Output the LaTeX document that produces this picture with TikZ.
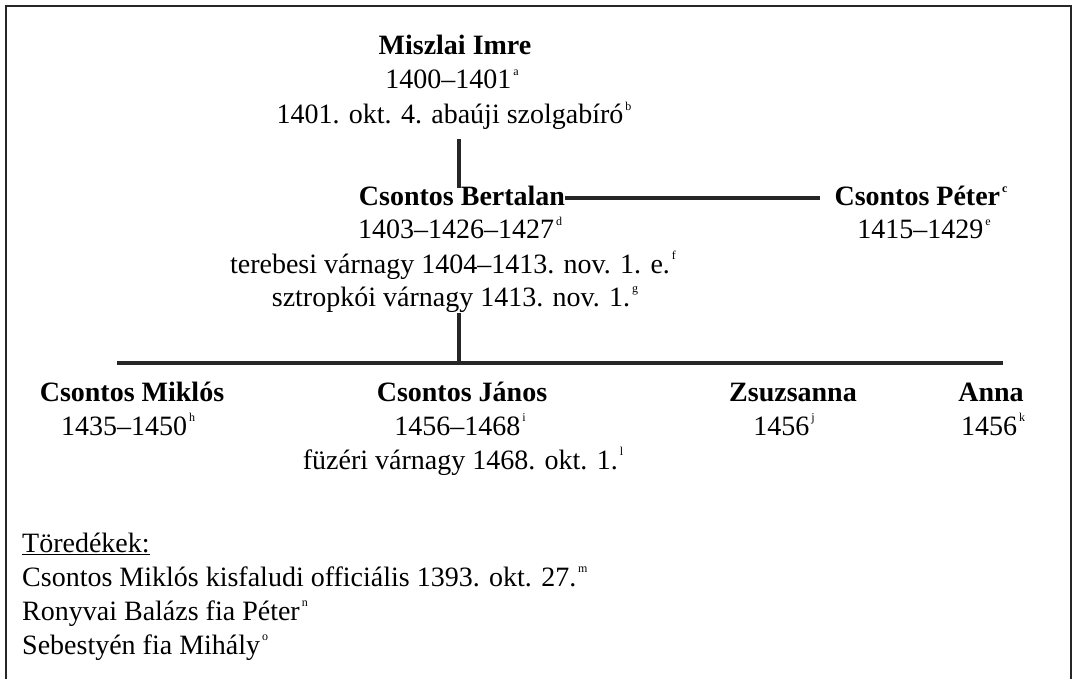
\documentclass[tikz,border=0pt]{standalone}
\usepackage{fontspec}
\setmainfont{Liberation Serif}
\usetikzlibrary{calc}
\newcommand\fnote[1]{\kern2pt\raisebox{13.5pt}{\fontsize{12}{12}\selectfont #1}}
\tikzset{
  txt/.style={font=\fontsize{28}{33}\selectfont, inner sep=0pt, anchor=base},
  nmtxt/.style={txt, font=\fontsize{28}{33}\selectfont\bfseries},
  lefttxt/.style={txt, anchor=base west},
  tree/.style={line width=4pt, draw=black!85},
  frame/.style={line width=2.6pt, draw=black!85},
}
\begin{document}
\begin{tikzpicture}[x=1pt,y=-1pt]
\useasboundingbox (0,0) rectangle (1074,679);
\draw[frame] (6,679) -- (6,6) -- (1071,6) -- (1071,679);

% Miszlai Imre
\node[nmtxt] (m1) at (455,55) {Miszlai Imre};
\node[txt] (m2) at (452,89) {1400–1401\fnote{a}};
\node[txt] (m3) at (454,124) {1401. okt. 4. abaúji szolgabíró\fnote{b}};

% Csontos Bertalan
\node[nmtxt] (b1) at (462,206) {Csontos Bertalan};
\node[txt] (b2) at (460,239) {1403–1426–1427\fnote{d}};
\node[txt] (b3) at (453,273) {terebesi várnagy 1404–1413. nov. 1. e.\fnote{f}};
\node[txt] (b4) at (455,306) {sztropkói várnagy 1413. nov. 1.\fnote{g}};

% Csontos Peter
\node[nmtxt] (p1) at (921,206) {Csontos Péter\fnote{c}};
\node[txt] (p2) at (924,239) {1415–1429\fnote{e}};

% children
\node[nmtxt] (c1) at (132,401) {Csontos Miklós};
\node[txt] (c1a) at (128,435) {1435–1450\fnote{h}};
\node[nmtxt] (c2) at (462,401) {Csontos János};
\node[txt] (c2a) at (460,435) {1456–1468\fnote{i}};
\node[txt] (c2b) at (463,469) {füzéri várnagy 1468. okt. 1.\fnote{l}};
\node[nmtxt] (c3) at (793,401) {Zsuzsanna};
\node[txt] (c3a) at (784,435) {1456\fnote{j}};
\node[nmtxt] (c4) at (991,401) {Anna};
\node[txt] (c4a) at (993,435) {1456\fnote{k}};

% fragments
\node[lefttxt] (t0) at (22,552) {\underline{Töredékek:}};
\node[lefttxt] (t1) at (22,586) {Csontos Miklós kisfaludi officiális 1393. okt. 27.\fnote{m}};
\node[lefttxt] (t2) at (22,620) {Ronyvai Balázs fia Péter\fnote{n}};
\node[lefttxt] (t3) at (22,654) {Sebestyén fia Mihály\fnote{o}};

% connectors
\coordinate (v1a) at (459,139);
\coordinate (v1b) at (459,188);
\draw[tree] (v1a) -- (v1b);
\draw[tree,line width=3.5pt] ($(b1.base east)+(0,-8)$) -- ($(p1.base west)+(-14,-8)$);
\coordinate (v2a) at (459,313);
\coordinate (hj) at (459,363);
\draw[tree] (v2a) -- (hj);
\coordinate (hl) at (117,363);
\coordinate (hr) at (1003,363);
\draw[tree,line width=4.5pt] (hl) -- (hr);
\end{tikzpicture}
\end{document}
